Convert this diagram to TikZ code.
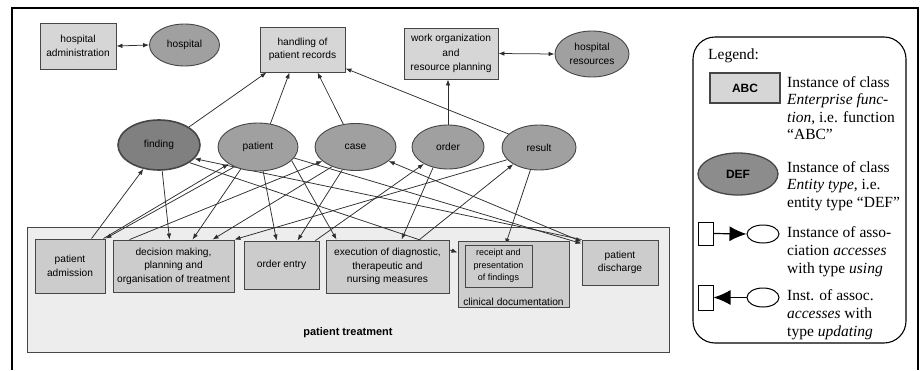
\documentclass[tikz,border=0pt]{standalone}
\usepackage{fontspec}
\setmainfont{Liberation Sans}
\newfontfamily\legserif{Liberation Serif}
\usetikzlibrary{arrows.meta,shapes.geometric,calc}

\definecolor{funcfill}{RGB}{214,214,214}
\definecolor{innerfill}{RGB}{204,204,204}
\definecolor{entfill}{RGB}{160,160,160}
\definecolor{findfill}{RGB}{128,128,128}
\definecolor{ptfill}{RGB}{237,237,237}
\definecolor{bordergray}{RGB}{70,70,70}
\definecolor{edgecol}{RGB}{45,45,45}
\definecolor{deffill}{RGB}{140,140,140}

\newcommand\dgfont{\fontsize{10.2}{13.5}\selectfont}
\newcommand\smallfont{\fontsize{9}{12.5}\selectfont}
\newcommand\legfont{\legserif\fontsize{15.5}{17.5}\selectfont}

\pgfdeclarelayer{bg}
\pgfdeclarelayer{edges}
\pgfsetlayers{bg,edges,main}

\begin{document}
\begin{tikzpicture}[x=1pt,y=-1pt,
  func/.style={draw=bordergray, fill=funcfill, line width=0.9pt, align=center,
    inner sep=1pt, font=\dgfont},
  subfunc/.style={func, fill=innerfill},
  ent/.style={ellipse, draw=bordergray, fill=entfill, line width=0.9pt,
    inner sep=0pt, align=center, font=\dgfont},
  acc/.style={draw=edgecol, line width=0.75pt, -{Latex[length=6pt,width=4.5pt]}},
  accboth/.style={draw=edgecol, line width=0.75pt,
    {Latex[length=6pt,width=4.5pt]}-{Latex[length=6pt,width=4.5pt]}},
  legtext/.style={anchor=base west, inner sep=0pt, font=\legfont},
  legsym/.style={draw=black, fill=white, line width=1pt, inner sep=0pt},
]
\useasboundingbox (0,0) rectangle (922,370);

% outer frame
\draw[line width=1.2pt] (12,370) -- (12,8) -- (918,8) -- (918,370);

% top row of enterprise functions and entity types
\node[func, minimum width=76pt, minimum height=46pt] (hadmin) at (78,46) {hospital\\administration};
\node[ent, minimum width=70pt, minimum height=42pt] (hospital) at (184.5,45) {hospital};
\node[func, minimum width=85pt, minimum height=45pt] (handling) at (302.5,49.5) {handling of\\patient records};
\node[func, minimum width=94pt, minimum height=51pt, font=\fontsize{10.2}{14.5}\selectfont] (workorg) at (451,53.5) {work organization\\and\\resource planning};
\node[ent, minimum width=74pt, minimum height=46pt] (hres) at (592,54) {hospital\\resources};

% entity types
\node[ent, fill=findfill, line width=1.6pt, minimum width=82pt, minimum height=50pt] (finding) at (159,145) {finding};
\node[ent, minimum width=80pt, minimum height=48pt] (patient) at (258,147) {patient};
\node[ent, minimum width=81pt, minimum height=47pt] (case) at (355.5,147) {case};
\node[ent, minimum width=72pt, minimum height=44pt] (order) at (448,147) {order};
\node[ent, minimum width=74pt, minimum height=45pt] (result) at (539,147.5) {result};

% patient treatment and its sub-functions
\begin{pgfonlayer}{bg}
\node[draw=bordergray, fill=ptfill, line width=0.9pt, minimum width=642pt, minimum height=125pt, inner sep=0pt] (ptreat) at (348,289.5) {};
\end{pgfonlayer}
\node[font=\bfseries\fontsize{11}{13}\selectfont, inner sep=0pt] (ptlabel) at (348,333) {patient treatment};

\node[subfunc, minimum width=70pt, minimum height=54pt] (pa) at (70,266) {patient\\admission};
\node[subfunc, minimum width=121pt, minimum height=52pt] (dm) at (173.5,266) {decision making,\\planning and\\organisation of treatment};
\node[subfunc, minimum width=75pt, minimum height=48pt] (oe) at (281.5,265) {order entry};
\node[subfunc, minimum width=123pt, minimum height=53pt] (ex) at (387.5,266.5) {execution of diagnostic,\\therapeutic and\\nursing measures};
\node[subfunc, minimum width=111pt, minimum height=66pt] (cd) at (513.5,274) {};
\node[anchor=south, inner sep=2pt, font=\dgfont] (cdlabel) at (cd.south) {clinical documentation};
\node[subfunc, minimum width=67pt, minimum height=42pt, font=\smallfont] (rp) at (498.5,266) {receipt and\\presentation\\of findings};
\node[subfunc, minimum width=76pt, minimum height=45pt] (pd) at (620,262.5) {patient\\discharge};

% access associations
\begin{pgfonlayer}{edges}
\draw[accboth] (hadmin.east) -- (hospital.west);
\draw[accboth] (workorg.east) -- (hres.west);
\draw[acc] (finding.31) -- ([xshift=7pt]handling.south west);
\draw[acc] (patient.62) -- ([xshift=30pt]handling.south west);
\draw[acc] (case.118) -- ([xshift=58pt]handling.south west);
\draw[acc] (result.156) -- ([yshift=4pt]handling.south east);
\draw[acc] (order.north) -- (order.north |- workorg.south);

\draw[acc] ([xshift=57pt]pa.north west) -- (finding.-123);
\draw[acc] ([xshift=-2pt]pa.north east) -- (patient.-150);
\draw[acc] (patient.-140) -- (pa.north east);
\draw[acc] (finding.-83) -- ([xshift=57pt]dm.north west);
\draw[acc] (patient.-128) -- ([xshift=80pt]dm.north west);
\draw[acc] ([xshift=17pt]dm.north west) -- (case.-157);
\draw[acc] (case.-140) -- ([xshift=100pt]dm.north west);
\draw[acc] (result.-159) -- (dm.north east);
\draw[acc] (patient.-78) -- ([xshift=33pt]oe.north west);
\draw[acc] (case.-120) -- ([xshift=54pt]oe.north west);
\draw[acc] ([xshift=-4pt]oe.north east) -- (order.-145);
\draw[acc] (patient.-22) -- ([xshift=11pt]ex.north west);
\draw[acc] (order.-126) -- ([xshift=76pt]ex.north west);
\draw[acc] ([xshift=94pt]ex.north west) -- (result.-147);
\draw[acc] (result.-111) -- ([xshift=41pt]rp.north west);
\draw[acc] (finding.-30) -- ([yshift=-12pt]cd.north west);
\draw[acc] (pd.north west) -- (finding.-21);
\draw[acc] (patient.-17) -- ([yshift=-4pt]pd.north west);
\draw[accboth] (case.-23) -- ([yshift=-2pt]pd.north west);
\end{pgfonlayer}

% legend
\node[draw=black, line width=1.1pt, rounded corners=22pt, minimum width=213pt, minimum height=306pt, inner sep=0pt] (legend) at (799.5,190) {};
\node[legtext] (legtitle) at (708,59) {Legend:};

\node[func, fill=funcfill, line width=1.3pt, minimum width=70pt, minimum height=30pt, font=\bfseries\fontsize{12}{14}\selectfont] (abc) at (745,88) {ABC};
\node[legtext] (la1) at (787,87) {Instance of class};
\node[legtext] (la2) at (787,104.5) {\textit{Enterprise func-}};
\node[legtext] (la3) at (787,122) {\textit{tion}, i.e. function};
\node[legtext] (la4) at (787,139.5) {“ABC”};

\node[ent, fill=deffill, line width=1.3pt, minimum width=80pt, minimum height=42pt, font=\bfseries\fontsize{12}{14}\selectfont] (def) at (738,174) {DEF};
\node[legtext] (lb1) at (787,172) {Instance of class};
\node[legtext] (lb2) at (787,189.5) {\textit{Entity type}, i.e.};
\node[legtext] (lb3) at (787,207) {entity type “DEF”};

\node[legsym, minimum width=15pt, minimum height=23pt] (ur) at (705.5,233.5) {};
\node[legsym, ellipse, minimum width=32pt, minimum height=18pt] (ue) at (763,234) {};
\draw[line width=1.2pt, -{Latex[length=17pt,width=15pt]}] (ur.east) -- (ue.west);
\node[legtext] (lc1) at (787,237) {Instance of asso-};
\node[legtext] (lc2) at (787,255) {ciation \textit{accesses}};
\node[legtext] (lc3) at (787,273) {with type \textit{using}};

\node[legsym, minimum width=15pt, minimum height=25pt] (dr) at (705.5,297.5) {};
\node[legsym, ellipse, minimum width=32pt, minimum height=19pt] (de) at (763,297.5) {};
\draw[line width=1.2pt, {Latex[length=17pt,width=15pt]}-] (dr.east) -- (de.west);
\node[legtext] (ld1) at (787,300) {Inst. of assoc.};
\node[legtext] (ld2) at (787,318) {\textit{accesses} with};
\node[legtext] (ld3) at (787,336) {type \textit{updating}};
\end{tikzpicture}
\end{document}
